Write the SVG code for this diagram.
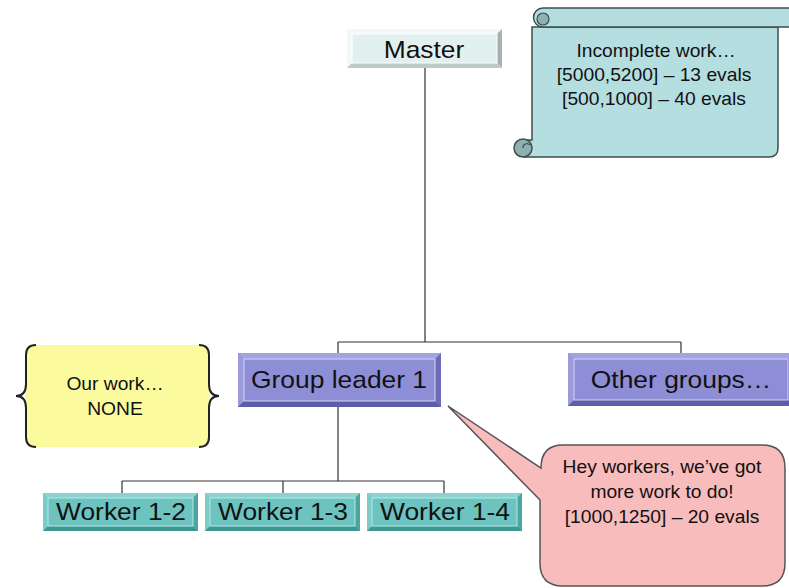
<svg xmlns="http://www.w3.org/2000/svg" width="789" height="588" viewBox="0 0 789 588">
<style>
text{font-family:"Liberation Sans",Arial,sans-serif;fill:#111;text-anchor:middle}
.big{font-size:24px}
.sm{font-size:17.5px}
.conn{stroke:#333;stroke-width:1.2;fill:none}
.mFace{fill:#e2f0f0}.mLt{fill:#f3f9f9}.mDk{fill:#a3b3b3}.mDk2{fill:#bccaca}
.gFace{fill:#8e8ed6}.gLt{fill:#a3a3e2}.gLt2{fill:#9a9adc}.gDk{fill:#5d5daa}.gDk2{fill:#6c6cb8}
.wFace{fill:#6cc3bf}.wLt{fill:#8ad3cf}.wLt2{fill:#7ccbc7}.wDk{fill:#3e9793}.wDk2{fill:#4ca5a1}
.inG{fill:none;stroke:#d4d4f4;stroke-width:1}
.inW{fill:none;stroke:#b8e8e6;stroke-width:1}
.inM{fill:none;stroke:#ffffff;stroke-width:1}
</style>
<rect width="789" height="588" fill="#ffffff"/>

<g id="connectors">
<path class="conn" d="M425,68V342M338,342H681M338,342V353M681,342V353"/>
<path class="conn" d="M338,407V481M122,481H444M122,481V493M283,481V493M444,481V493"/>
</g>

<g id="scroll">
<path d="M532,27H778V148Q778,157 769,157H524V140H532Z" fill="#b5dee1" stroke="#3d4d4d" stroke-width="1.5"/>
<path d="M543,8H800V27H543A9.5,9.5 0 0 1 543,8Z" fill="#b5dee1" stroke="#3d4d4d" stroke-width="1.5"/>
<circle cx="543" cy="19" r="6" fill="#8fb0b3" stroke="#3d4d4d" stroke-width="1.2"/>
<circle cx="523" cy="148" r="9" fill="#8fb0b3" stroke="#3d4d4d" stroke-width="1.5"/>
<path d="M523,148A4,4 0 0 1 530,145" fill="none" stroke="#3d4d4d" stroke-width="1.2"/>
<text class="sm" transform="translate(656,57) scale(1.1,1)">Incomplete work…</text>
<text class="sm" transform="translate(654,81) scale(1.1,1)">[5000,5200] – 13 evals</text>
<text class="sm" transform="translate(654,105) scale(1.1,1)">[500,1000] – 40 evals</text>
</g>

<g id="master">
<rect class="mFace" x="347" y="29" width="155" height="39"/>
<polygon class="mLt" points="347,29 502,29 497,34 352,34"/>
<polygon class="mLt" points="347,29 352,34 352,63 347,68"/>
<polygon class="mDk" points="502,29 502,68 497,63 497,34"/>
<polygon class="mDk2" points="347,68 502,68 497,63 352,63"/>
<rect class="inM" x="352" y="34" width="145" height="29"/>
<text class="big" transform="translate(424,58) scale(1.1,1)">Master</text>
</g>

<g id="ourwork">
<path d="M35,345H200Q210,345 210,355V437Q210,447 200,447H35Q25,447 25,437V355Q25,345 35,345Z" fill="#fbfb9e"/>
<path d="M36,345Q26,345 26,355V384Q26,396 16,396Q26,396 26,408V437Q26,447 36,447" fill="none" stroke="#222" stroke-width="2"/>
<path d="M199,345Q209,345 209,355V384Q209,396 219,396Q209,396 209,408V437Q209,447 199,447" fill="none" stroke="#222" stroke-width="2"/>
<text class="sm" transform="translate(115,390) scale(1.1,1)">Our work…</text>
<text class="sm" transform="translate(115,415) scale(1.1,1)">NONE</text>
</g>

<g id="groupleader1">
<rect class="gFace" x="238" y="353" width="203" height="54"/>
<polygon class="gLt" points="238,353 441,353 435,359 244,359"/>
<polygon class="gLt2" points="238,353 244,359 244,401 238,407"/>
<polygon class="gDk2" points="441,353 441,407 435,401 435,359"/>
<polygon class="gDk" points="238,407 441,407 435,401 244,401"/>
<rect class="inG" x="244" y="359" width="191" height="42"/>
<text class="big" transform="translate(339,388) scale(1.1,1)">Group leader 1</text>
</g>

<g id="othergroups">
<rect class="gFace" x="568" y="353" width="226" height="53"/>
<polygon class="gLt" points="568,353 794,353 788,359 574,359"/>
<polygon class="gLt2" points="568,353 574,359 574,400 568,406"/>
<polygon class="gDk2" points="794,353 794,406 788,400 788,359"/>
<polygon class="gDk" points="568,406 794,406 788,400 574,400"/>
<rect class="inG" x="574" y="359" width="214" height="41"/>
<text class="big" transform="translate(681,388) scale(1.1,1)">Other groups…</text>
</g>

<g id="worker12">
<rect class="wFace" x="43" y="493" width="155" height="38"/>
<polygon class="wLt" points="43,493 198,493 193,498 48,498"/>
<polygon class="wLt2" points="43,493 48,498 48,526 43,531"/>
<polygon class="wDk2" points="198,493 198,531 193,526 193,498"/>
<polygon class="wDk" points="43,531 198,531 193,526 48,526"/>
<rect class="inW" x="48" y="498" width="145" height="28"/>
<text class="big" transform="translate(121,520) scale(1.1,1)">Worker 1-2</text>
</g>

<g id="worker13">
<rect class="wFace" x="205" y="493" width="155" height="38"/>
<polygon class="wLt" points="205,493 360,493 355,498 210,498"/>
<polygon class="wLt2" points="205,493 210,498 210,526 205,531"/>
<polygon class="wDk2" points="360,493 360,531 355,526 355,498"/>
<polygon class="wDk" points="205,531 360,531 355,526 210,526"/>
<rect class="inW" x="210" y="498" width="145" height="28"/>
<text class="big" transform="translate(283,520) scale(1.1,1)">Worker 1-3</text>
</g>

<g id="worker14">
<rect class="wFace" x="367" y="493" width="155" height="38"/>
<polygon class="wLt" points="367,493 522,493 517,498 372,498"/>
<polygon class="wLt2" points="367,493 372,498 372,526 367,531"/>
<polygon class="wDk2" points="522,493 522,531 517,526 517,498"/>
<polygon class="wDk" points="367,531 522,531 517,526 372,526"/>
<rect class="inW" x="372" y="498" width="145" height="28"/>
<text class="big" transform="translate(445,520) scale(1.1,1)">Worker 1-4</text>
</g>

<g id="callout">
<path d="M563,445H762Q785,445 785,468V563Q785,586 762,586H563Q540,586 540,563V500L448,406L541,468Q541,445 563,445Z" fill="#f8bcbc" stroke="#555" stroke-width="1.5"/>
<text class="sm" transform="translate(662,473) scale(1.1,1)">Hey workers, we’ve got</text>
<text class="sm" transform="translate(662,498) scale(1.1,1)">more work to do!</text>
<text class="sm" transform="translate(662,523) scale(1.1,1)">[1000,1250] – 20 evals</text>
</g>
</svg>
